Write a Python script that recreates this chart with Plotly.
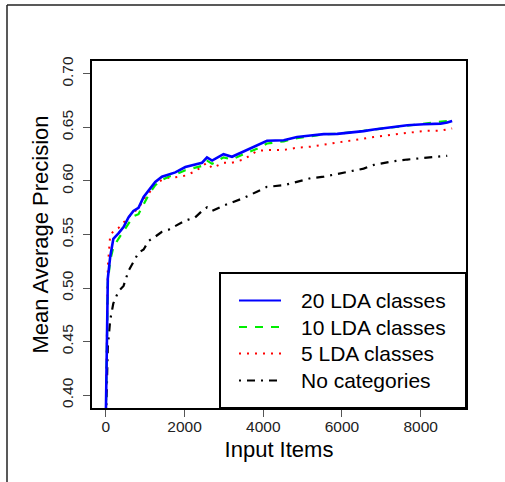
import plotly.graph_objects as go

# ---------------- data ----------------
items = [0, 20, 50, 110, 190, 320, 450, 575, 700, 830, 960, 1085, 1255, 1425,
         1595, 1765, 2020, 2270, 2445, 2570, 2700, 2990, 3205, 3500, 3840, 4095,
         4520, 4860, 5200, 5540, 5880, 6215, 6550, 6810, 7235, 7660, 8080, 8505,
         8675, 8800]

map_20_lda = [0.380, 0.450, 0.509, 0.529, 0.546, 0.551, 0.557, 0.566, 0.572, 0.575,
              0.585, 0.591, 0.599, 0.604, 0.606, 0.608, 0.613, 0.615, 0.617, 0.622,
              0.619, 0.625, 0.6226, 0.6275, 0.633, 0.6375, 0.638, 0.641, 0.6425, 0.6437,
              0.644, 0.645, 0.6465, 0.648, 0.650, 0.652, 0.653, 0.6535, 0.6545, 0.656]

map_10_lda = [0.380, 0.440, 0.505, 0.5257, 0.538, 0.546, 0.553, 0.560, 0.567, 0.569,
              0.579, 0.587, 0.596, 0.601, 0.604, 0.606, 0.610, 0.612, 0.614, 0.619,
              0.616, 0.622, 0.620, 0.625, 0.630, 0.635, 0.637, 0.640, 0.642, 0.6435,
              0.644, 0.6455, 0.647, 0.648, 0.650, 0.652, 0.654, 0.6555, 0.656, 0.658]

map_5_lda = [0.380, 0.460, 0.520, 0.549, 0.553, 0.556, 0.561, 0.566, 0.571, 0.574,
             0.583, 0.588, 0.597, 0.601, 0.603, 0.6035, 0.605, 0.609, 0.614, 0.617,
             0.612, 0.617, 0.617, 0.620, 0.628, 0.6288, 0.629, 0.631, 0.632, 0.634,
             0.636, 0.638, 0.640, 0.641, 0.643, 0.645, 0.6467, 0.647, 0.648, 0.649]

map_no_cat = [0.370, 0.395, 0.445, 0.470, 0.4857, 0.497, 0.502, 0.516, 0.524, 0.533,
              0.536, 0.544, 0.548, 0.5525, 0.5545, 0.558, 0.563, 0.566, 0.572, 0.5753,
              0.572, 0.577, 0.580, 0.584, 0.590, 0.5945, 0.596, 0.599, 0.6025, 0.604,
              0.6065, 0.609, 0.6115, 0.615, 0.618, 0.620, 0.6213, 0.623, 0.6235, None]

series_names = ["20 LDA classes", "10 LDA classes", "5 LDA classes", "No categories"]
x_ticks = [0, 2000, 4000, 6000, 8000]
y_ticks = [0.40, 0.45, 0.50, 0.55, 0.60, 0.65, 0.70]
y_tick_text = ["0.40", "0.45", "0.50", "0.55", "0.60", "0.65", "0.70"]
x_title = "Input Items"
y_title = "Mean Average Precision"

# ---------------- layout geometry ----------------
W, H = 505, 482
L, R, T, B = 92, 466, 61, 408          # plot box in pixels
FONT = "Liberation Sans, Arial, Helvetica, sans-serif"


def pxx(x):
    return (x - L) / (R - L)


def pxy(y):
    return (B - y) / (B - T)


series = [map_20_lda, map_10_lda, map_5_lda, map_no_cat]
colors = ["#0000ff", "#00ee00", "#ff0000", "#000000"]
dashes = ["solid", "8px,8px", "2px,6px", "2px,6px,8px,6px"]
widths = [2.6, 2.2, 2.0, 2.2]

fig = go.Figure()
for i in [3, 2, 1, 0]:
    fig.add_trace(go.Scatter(
        x=items, y=series[i], mode="lines", name=series_names[i],
        line=dict(color=colors[i], dash=dashes[i], width=widths[i]),
        showlegend=False, connectgaps=False,
    ))

shapes = []
annotations = []

# outer frame (top and left edges visible in the reference)
shapes.append(dict(type="line", xref="paper", yref="paper",
                   x0=pxx(7), x1=pxx(506), y0=pxy(5), y1=pxy(5),
                   line=dict(color="#222222", width=1.5)))
shapes.append(dict(type="line", xref="paper", yref="paper",
                   x0=pxx(7), x1=pxx(7), y0=pxy(5), y1=pxy(483),
                   line=dict(color="#222222", width=1.5)))

# legend box
shapes.append(dict(type="rect", xref="paper", yref="paper",
                   x0=pxx(220), x1=pxx(466), y0=pxy(408), y1=pxy(273),
                   line=dict(color="black", width=2), fillcolor="white", layer="above"))
rows = [300.5, 327, 353.5, 380.5]
for i in range(4):
    shapes.append(dict(type="line", xref="paper", yref="paper",
                       x0=pxx(239), x1=pxx(281), y0=pxy(rows[i]), y1=pxy(rows[i]),
                       line=dict(color=colors[i], dash=dashes[i], width=2), layer="above"))
    annotations.append(dict(xref="paper", yref="paper", x=pxx(299), y=pxy(rows[i]),
                            text=series_names[i], showarrow=False,
                            xanchor="left", yanchor="middle",
                            font=dict(family=FONT, size=21, color="black")))

fig.update_layout(
    width=W, height=H,
    margin=dict(l=L, r=W - R, t=T, b=H - B, pad=0, autoexpand=False),
    paper_bgcolor="white", plot_bgcolor="white",
    font=dict(family=FONT, color="black"),
    shapes=shapes, annotations=annotations,
    showlegend=False,
)
fig.update_xaxes(
    range=[-352, 9152], tickvals=x_ticks, ticktext=[str(v) for v in x_ticks],
    ticks="outside", ticklen=7, tickwidth=1, tickcolor="#555555",
    showline=True, linecolor="black", linewidth=2, mirror=True,
    showgrid=False, zeroline=False, automargin=False, ticklabelstandoff=-4,
    tickfont=dict(family=FONT, size=15.5, color="#222222"),
    title=dict(text=x_title, font=dict(family=FONT, size=22, color="black"), standoff=8),
)
fig.update_yaxes(
    range=[0.388, 0.712], tickvals=y_ticks, ticktext=y_tick_text, tickangle=-90,
    ticks="outside", ticklen=7, tickwidth=1, tickcolor="#555555",
    showline=True, linecolor="black", linewidth=2, mirror=True,
    showgrid=False, zeroline=False, automargin=False, ticklabelstandoff=4,
    tickfont=dict(family=FONT, size=15.5, color="#222222"),
    title=dict(text=y_title, font=dict(family=FONT, size=22, color="black"), standoff=4),
)

fig.write_html(
    "out.html",
    config={"displayModeBar": False},
    post_script="document.body.style.margin='0';document.body.style.padding='0';",
)
